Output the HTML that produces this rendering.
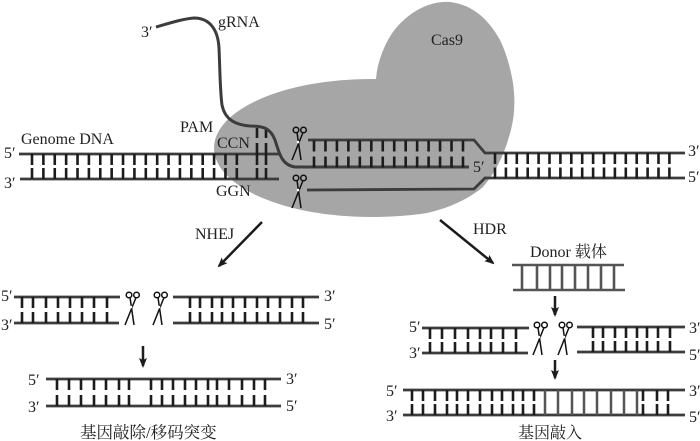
<!DOCTYPE html>
<html><head><meta charset="utf-8"><style>
html,body{margin:0;padding:0;background:#fff}
svg{display:block}
text{font-family:"Liberation Serif","Noto Serif CJK SC",serif;font-size:16px;fill:#222}
.s{stroke:#3c3c3c;stroke-width:2.8;fill:none}
.t{stroke:#1c1c1c;stroke-width:2.6;fill:none}
.b{stroke:#555;stroke-width:2.5;fill:none}
.c{stroke:#111;stroke-width:1.5;fill:none}
.a{stroke:#1c1c1c;stroke-width:2.5;fill:none}
</style></head><body>
<svg width="700" height="441" viewBox="0 0 700 441" xmlns="http://www.w3.org/2000/svg">
<defs>
<g id="sc">
<circle cx="-2" cy="-12" r="2.8" class="c"/><circle cx="5.500" cy="-12" r="2.8" class="c"/>
<path d="M-1 -9.500L3 18M5 -9.500L-6 18" class="c"/>
<circle cx="0" cy="0" r="1.3" fill="#fff"/>
</g>
<marker id="ah" markerWidth="12" markerHeight="10" refX="8" refY="4" orient="auto" markerUnits="userSpaceOnUse"><path d="M0 0L10 4L0 8L2 4Z" fill="#1c1c1c"/></marker>
</defs>

<!-- Cas9 -->
<path d="M376 79H370A156 69 0 0 0 370 217C395 217 415 215 427 213C450 208 470 198 483 187C495 173 503 157 508 140C514 122 516 105 513 83C510 65 505 50 500 40C490 22 475 5 450 2C425 0 400 18 388 40C381 53 377 66 376 79Z" fill="#a6a6a6"/>
<text x="431" y="45">Cas9</text>

<!-- Genome left -->
<path class="s" d="M19 154H279M20 179H279"/>
<path class="t" d="M30.700 159.500H246.500" stroke-dasharray="2.6 8.78" style="stroke-width:11"/>
<path class="t" d="M30.700 173.500H246.500" stroke-dasharray="2.6 8.78" style="stroke-width:11"/>
<path class="t" d="M257 128v10M266 128v10M257 143v11M266 143v11M257 154v11M266 154v11M257 168v11M266 168v11"/>

<!-- gRNA -->
<path d="M156 27C170 23 182 19 194 18C210 18 218 30 219 48C220 70 220 90 222 105C225 120 236 125 250 126C262 126 270 127 275 140C279 152 281 165 295 167H469" fill="none" stroke="#3c3c3c" stroke-width="3"/>

<!-- Right strands in Cas9 -->
<path class="s" d="M308 140H474L485 153H685M307 190L474 189L485 178H685"/>
<path class="t" d="M312.700 146H466" stroke-dasharray="2.6 8.86" style="stroke-width:11"/>
<path class="t" d="M312.700 162H466" stroke-dasharray="2.6 8.86" style="stroke-width:11"/>
<path class="t" d="M493.700 158.500H675" stroke-dasharray="2.6 8.3" style="stroke-width:11"/>
<path class="t" d="M493.700 173H675" stroke-dasharray="2.6 8.3" style="stroke-width:11"/>
<use href="#sc" x="298" y="142"/>
<use href="#sc" x="298" y="190"/>

<!-- Top labels -->
<text x="141" y="37">3′</text>
<text x="218" y="27">gRNA</text>
<text x="180" y="132">PAM</text>
<text x="217" y="148">CCN</text>
<text x="216" y="196">GGN</text>
<text x="21" y="144">Genome DNA</text>
<text x="4" y="158">5′</text>
<text x="4" y="188">3′</text>
<text x="473" y="172">5′</text>
<text x="688" y="156">3′</text>
<text x="688" y="182">5′</text>

<!-- Main arrows -->
<path class="a" d="M262 222L219 266" marker-end="url(#ah)"/>
<path class="a" d="M440 220L493 263" marker-end="url(#ah)"/>
<text x="195" y="239">NHEJ</text>
<text x="473" y="234">HDR</text>

<!-- NHEJ upper -->
<path class="s" d="M14 297H120M14 323H119M173 297H319M173 323H319"/>
<path class="t" d="M22 297v11M33 297v11M46 297v11M58 297v11M70 297v11M82 297v11M94 297v11M107 297v11M22 312v11M33 312v11M46 312v11M58 312v11M70 312v11M82 312v11M94 312v11M107 312v11M190 297v11M200 297v11M212 297v11M222 297v11M233 297v11M245 297v11M257 297v11M268 297v11M280 297v11M292 297v11M303 297v11M190 312v11M200 312v11M212 312v11M222 312v11M233 312v11M245 312v11M257 312v11M268 312v11M280 312v11M292 312v11M303 312v11"/>
<use href="#sc" x="131" y="307"/>
<use href="#sc" x="159" y="307"/>
<text x="1" y="301">5′</text>
<text x="1" y="330">3′</text>
<text x="324" y="301">3′</text>
<text x="324" y="329">5′</text>
<path class="a" d="M143 346V366" marker-end="url(#ah)"/>

<!-- NHEJ lower -->
<path class="s" d="M46 379H281M46 406H281"/>
<path class="t" d="M57 379v11M69 379v11M81 379v11M94 379v11M106 379v11M119 379v11M129 379v11M151 379v11M162 379v11M173 379v11M185 379v11M196 379v11M208 379v11M217 379v11M229 379v11M242 379v11M254 379v11M265 379v11M57 395v11M69 395v11M81 395v11M94 395v11M106 395v11M119 395v11M129 395v11M151 395v11M162 395v11M173 395v11M185 395v11M196 395v11M208 395v11M217 395v11M229 395v11M242 395v11M254 395v11M265 395v11"/>
<text x="28" y="385">5′</text>
<text x="28" y="412">3′</text>
<text x="286" y="384">3′</text>
<text x="286" y="411">5′</text>
<text x="80" y="438" style="font-size:16.5px">基因敲除/移码突变</text>

<!-- Donor -->
<text x="530" y="257">Donor 载体</text>
<path class="b" style="stroke-width:2.6" d="M512 265H624M513 290H625M522 265V290M537 265V290M550 265V290M562 265V290M575 265V290M588 265V290M601 265V290M614 265V290"/>
<path class="a" d="M555 296V315" marker-end="url(#ah)"/>

<!-- HDR middle -->
<path class="s" d="M422 328H529M422 353H528M577 327H685M577 352H685"/>
<path class="t" d="M430 328v11M442 328v11M455 328v11M468 328v11M480 328v11M491 328v11M503 328v11M516 328v11M430 342v11M442 342v11M455 342v11M468 342v11M480 342v11M491 342v11M503 342v11M516 342v11M593 327v11M603 327v11M615 327v11M626 327v11M637 327v11M647 327v11M658 327v11M670 327v11M593 341v11M603 341v11M615 341v11M626 341v11M637 341v11M647 341v11M658 341v11M670 341v11"/>
<use href="#sc" x="539" y="337"/>
<use href="#sc" x="564" y="337"/>
<text x="409" y="332">5′</text>
<text x="409" y="358">3′</text>
<text x="689" y="333">3′</text>
<text x="689" y="360">5′</text>
<path class="a" d="M555 360V378" marker-end="url(#ah)"/>

<!-- HDR lower -->
<path class="s" d="M403 390H685M403 415H685"/>
<path class="t" d="M412 390v11M423 390v11M435 390v11M447 390v11M457 390v11M468 390v11M480 390v11M492 390v11M502 390v11M513 390v11M523 390v11M534 390v11M643 390v11M657 390v11M668 390v11M412 404v11M423 404v11M435 404v11M447 404v11M457 404v11M468 404v11M480 404v11M492 404v11M502 404v11M513 404v11M523 404v11M534 404v11M643 404v11M657 404v11M668 404v11"/>
<path class="b" d="M545 390V415M558 390V415M572 390V415M584 390V415M597 390V415M611 390V415M624 390V415M637 390V415"/>
<text x="386" y="396">5′</text>
<text x="386" y="421">3′</text>
<text x="689" y="396">3′</text>
<text x="689" y="422">5′</text>
<text x="518" y="438">基因敲入</text>
</svg>
</body></html>
